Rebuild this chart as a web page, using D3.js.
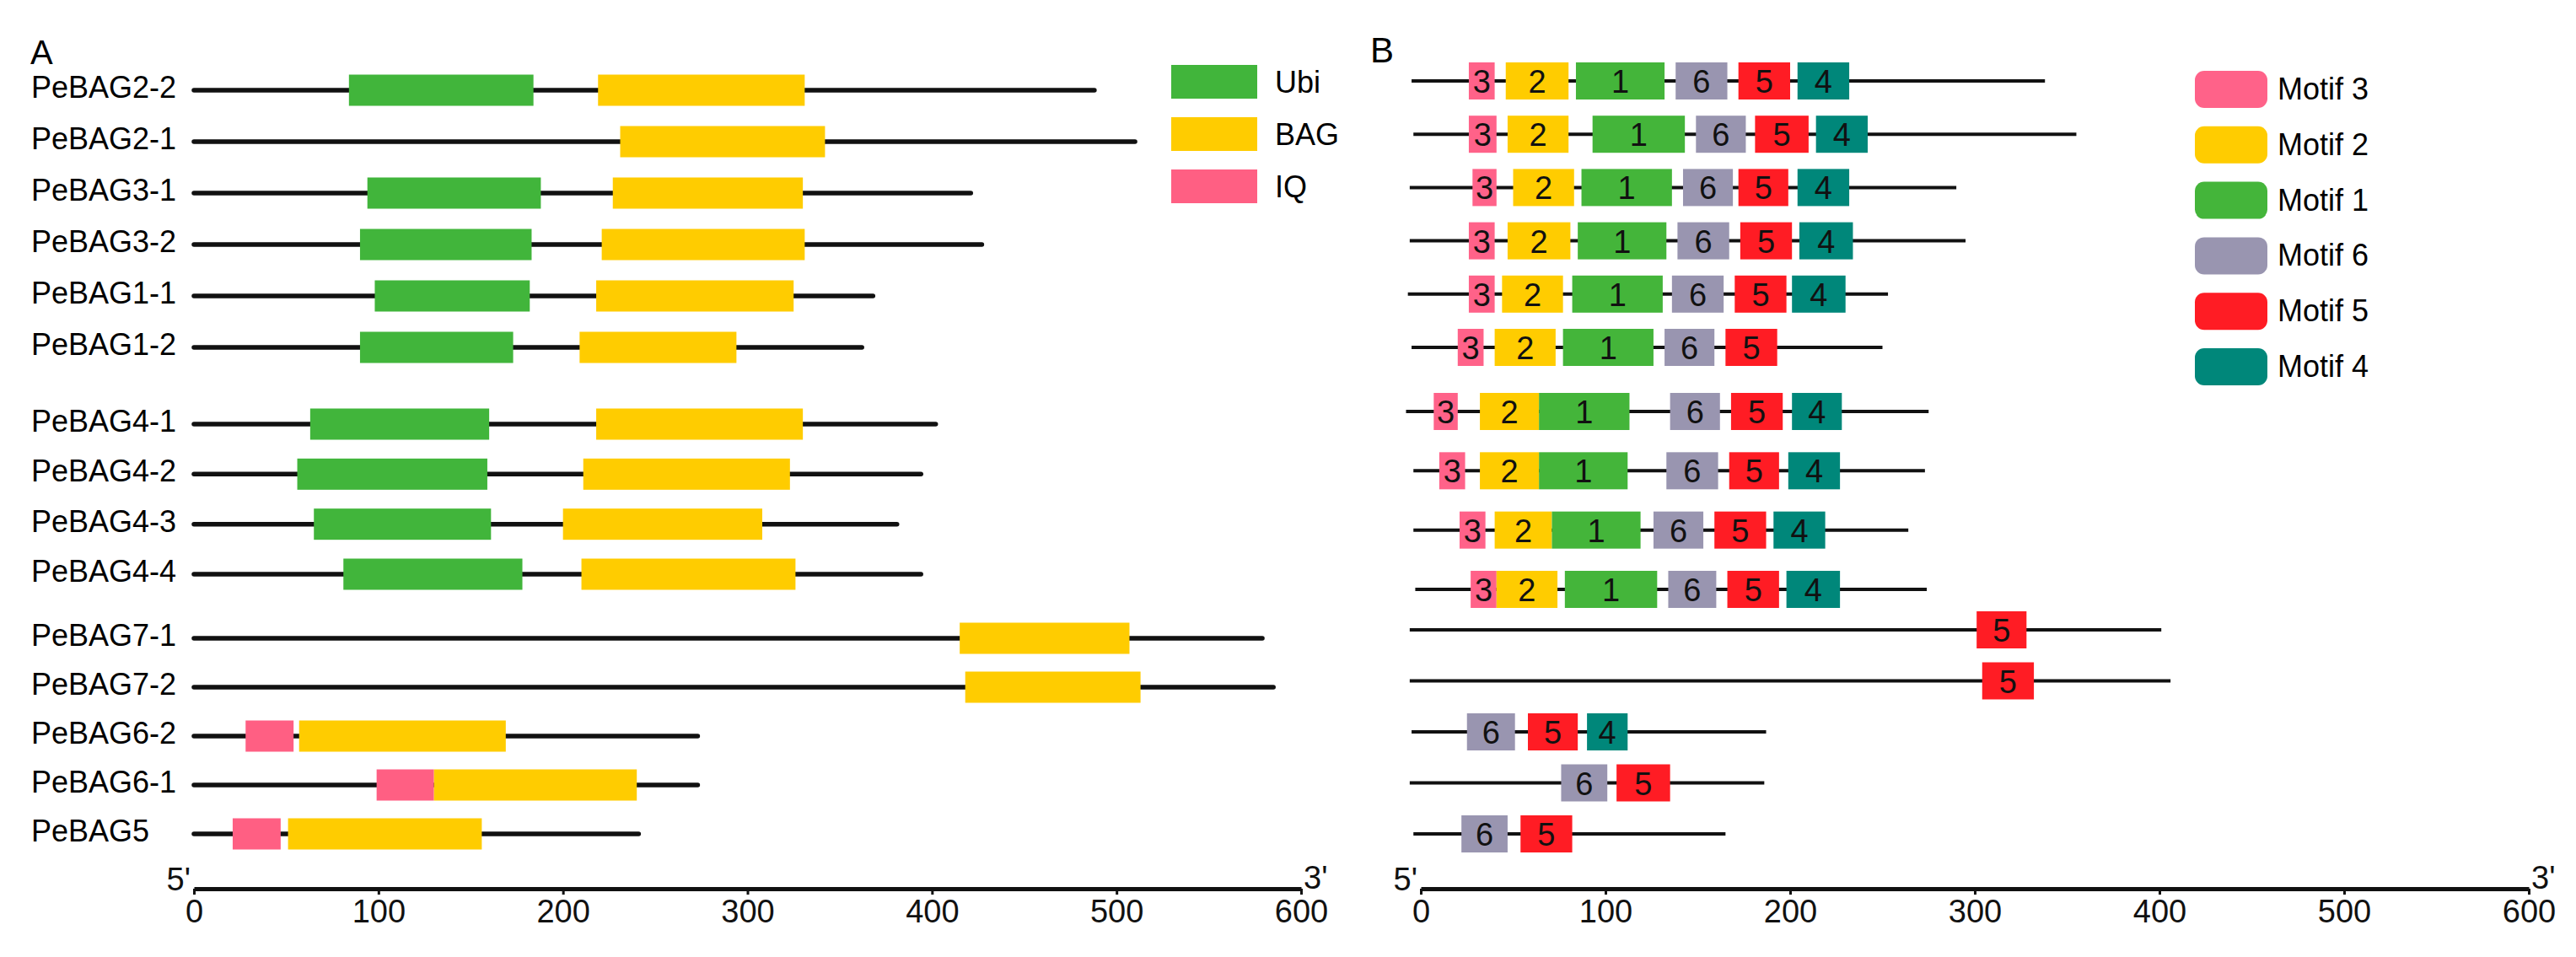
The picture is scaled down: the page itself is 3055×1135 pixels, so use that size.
<!DOCTYPE html>
<html>
<head>
<meta charset="utf-8">
<script src="https://cdn.jsdelivr.net/npm/d3@7"></script>
<style>
  body { margin: 0; background: #fff; }
  svg { display: block; font-family: "Liberation Sans", Arial, sans-serif; }
</style>
</head>
<body>
<script>
// genes, top to bottom, in three blocks
const genes = ["PeBAG2-2", "PeBAG2-1", "PeBAG3-1", "PeBAG3-2", "PeBAG1-1", "PeBAG1-2",
               "PeBAG4-1", "PeBAG4-2", "PeBAG4-3", "PeBAG4-4",
               "PeBAG7-1", "PeBAG7-2", "PeBAG6-2", "PeBAG6-1", "PeBAG5"];
const groupSizes = [6, 4, 5];

// panel A: protein length and domains (aa)
const proteinLength = [488, 510, 421, 427, 368, 362, 402, 394, 381, 394, 579, 585, 273, 273, 241];
const ubiDomain = [[84, 184], null, [94, 188], [90, 183], [98, 182], [90, 173],
                   [63, 160], [56, 159], [65, 161], [81, 178], null, null, null, null, null];
const bagDomain = [[219, 331], [231, 342], [227, 330], [221, 331], [218, 325], [209, 294],
                   [218, 330], [211, 323], [200, 308], [210, 326],
                   [415, 507], [418, 513], [57, 169], [130, 240], [51, 156]];
const iqDomain = [null, null, null, null, null, null, null, null, null, null,
                  null, null, [28, 54], [99, 130], [21, 47]];
const domainNames = ["Ubi", "BAG", "IQ"];

// panel B: sequence line and motifs
const motifLineStart = [-5, -4, -6, -6, -7, -5, -8, -4, -4, -3, -6, -6, -5, -6, -4];
const motifLineEnd = [338, 355, 290, 295, 253, 250, 275, 273, 264, 274, 401, 406, 187, 186, 165];
const motif3 = [[26, 40], [26, 41], [28, 41], [26, 40], [26, 40], [20, 34], [7, 20], [10, 24],
                [21, 35], [27, 41], null, null, null, null, null];
const motif2 = [[46, 80], [47, 80], [50, 83], [47, 81], [44, 77], [40, 73], [32, 64], [32, 64],
                [40, 71], [41, 74], null, null, null, null, null];
const motif1 = [[84, 132], [93, 143], [87, 136], [85, 133], [82, 131], [77, 126], [64, 113], [64, 112],
                [71, 119], [78, 128], null, null, null, null, null];
const motif6 = [[138, 166], [149, 176], [142, 169], [139, 167], [136, 164], [132, 159], [135, 162], [133, 161],
                [126, 153], [134, 160], null, null, [25, 51], [76, 101], [22, 47]];
const motif5 = [[172, 200], [181, 210], [172, 199], [173, 201], [170, 198], [165, 193], [168, 196], [167, 194],
                [159, 187], [166, 194], [301, 328], [304, 332], [58, 85], [106, 135], [54, 82]];
const motif4 = [[204, 232], [214, 242], [204, 232], [205, 234], [201, 230], null, [201, 228], [199, 227],
                [191, 219], [198, 227], null, null, [90, 112], null, null];
const motifOrder = ["3", "2", "1", "6", "5", "4"];

const axisTicks = [0, 100, 200, 300, 400, 500, 600];

const domainColor = { Ubi: "#41b53b", BAG: "#ffcc00", IQ: "#ff5f83" };
const motifColor = { "3": "#ff6289", "2": "#ffcc00", "1": "#44b53a", "6": "#9995b0", "5": "#ff1c24", "4": "#00877a" };

const width = 3055, height = 1135;
const axisY = 1054;

const svg = d3.select("body").append("svg")
    .attr("width", width)
    .attr("height", height)
    .attr("viewBox", [0, 0, width, height]);

// row positions: one point scale per block
function rowScale(spans) {
    let pos = {}, k = 0;
    groupSizes.forEach((n, g) => {
        let names = genes.slice(k, k + n);
        let s = d3.scalePoint().domain(names).range(spans[g]);
        names.forEach(nm => pos[nm] = s(nm));
        k += n;
    });
    return nm => pos[nm];
}
const yA = rowScale([[107, 412], [503, 681], [757, 989]]);
const yB = rowScale([[96, 412], [488, 699], [747, 989]]);

const xA = d3.scaleLinear().domain([0, 600]).range([230, 1543]);
const xB = d3.scaleLinear().domain([0, 600]).range([1685, 2999]);

// ---------- panel A ----------
const gA = svg.append("g");

gA.append("text").attr("x", 36).attr("y", 76)
    .style("font-size", "40px").text("A");

gA.selectAll(".glabel")
    .data(genes)
    .join("text")
    .attr("x", 37)
    .attr("y", d => yA(d) + 9)
    .style("font-size", "36px")
    .text(d => d);

gA.selectAll(".prot")
    .data(genes)
    .join("line")
    .attr("x1", xA(0))
    .attr("x2", (d, i) => xA(proteinLength[i]))
    .attr("y1", d => yA(d))
    .attr("y2", d => yA(d))
    .attr("stroke", "#111")
    .attr("stroke-width", 5.5)
    .attr("stroke-linecap", "round");

let domains = [];
genes.forEach((g, i) => {
    [["Ubi", ubiDomain], ["BAG", bagDomain], ["IQ", iqDomain]].forEach(([name, arr]) => {
        if (arr[i]) domains.push({ gene: g, name: name, start: arr[i][0], end: arr[i][1] });
    });
});

gA.selectAll(".dom")
    .data(domains)
    .join("rect")
    .attr("x", d => xA(d.start))
    .attr("width", d => xA(d.end) - xA(d.start))
    .attr("y", d => yA(d.gene) - 18.5)
    .attr("height", 37)
    .attr("fill", d => domainColor[d.name]);

// legend A
const legA = d3.scalePoint().domain(domainNames).range([97, 221]);
gA.selectAll(".legA")
    .data(domainNames)
    .join("rect")
    .attr("x", 1389)
    .attr("y", d => legA(d) - 20)
    .attr("width", 102)
    .attr("height", 40)
    .attr("fill", d => domainColor[d]);
gA.selectAll(".legAt")
    .data(domainNames)
    .join("text")
    .attr("x", 1512)
    .attr("y", d => legA(d) + 13)
    .style("font-size", "36px")
    .text(d => d);

// ---------- panel B ----------
const gB = svg.append("g");

gB.append("text").attr("x", 1625).attr("y", 74)
    .style("font-size", "42px").text("B");

gB.selectAll(".seq")
    .data(genes)
    .join("line")
    .attr("x1", (d, i) => xB(motifLineStart[i]))
    .attr("x2", (d, i) => xB(motifLineEnd[i]))
    .attr("y1", d => yB(d))
    .attr("y2", d => yB(d))
    .attr("stroke", "#111")
    .attr("stroke-width", 4);

const motifArrays = { "3": motif3, "2": motif2, "1": motif1, "6": motif6, "5": motif5, "4": motif4 };
let motifs = [];
genes.forEach((g, i) => {
    motifOrder.forEach(m => {
        let r = motifArrays[m][i];
        if (r) motifs.push({ gene: g, motif: m, start: r[0], end: r[1] });
    });
});

const mg = gB.selectAll(".motif")
    .data(motifs)
    .join("g");
mg.append("rect")
    .attr("x", d => xB(d.start))
    .attr("width", d => xB(d.end) - xB(d.start))
    .attr("y", d => yB(d.gene) - 22)
    .attr("height", 44)
    .attr("fill", d => motifColor[d.motif]);
mg.append("text")
    .attr("x", d => (xB(d.start) + xB(d.end)) / 2)
    .attr("y", d => yB(d.gene) + 14)
    .attr("text-anchor", "middle")
    .attr("fill", "#111")
    .style("font-size", "38px")
    .text(d => d.motif);

// legend B
const legB = d3.scalePoint().domain(motifOrder).range([106, 435]);
gB.selectAll(".legB")
    .data(motifOrder)
    .join("rect")
    .attr("x", 2603)
    .attr("y", d => legB(d) - 22)
    .attr("width", 86)
    .attr("height", 44)
    .attr("rx", 11)
    .attr("fill", d => motifColor[d]);
gB.selectAll(".legBt")
    .data(motifOrder)
    .join("text")
    .attr("x", 2701)
    .attr("y", d => legB(d) + 12)
    .style("font-size", "36px")
    .text(d => "Motif " + d);

// ---------- axes ----------
[xA, xB].forEach(x => {
    let ax = svg.append("g")
        .attr("transform", `translate(0,${axisY})`)
        .call(d3.axisBottom(x).tickValues(axisTicks).tickSize(7).tickSizeOuter(0).tickPadding(6));
    ax.select(".domain").attr("stroke", "#111").attr("stroke-width", 5);
    ax.selectAll(".tick line").attr("stroke", "#111").attr("stroke-width", 3);
    ax.selectAll(".tick text")
        .attr("fill", "#111")
        .style("font-family", "'Liberation Sans', Arial, sans-serif")
        .style("font-size", "38px");
    ax.append("text")
        .attr("x", x(0) - 4).attr("y", 2)
        .attr("text-anchor", "end").attr("fill", "#111")
        .style("font-size", "38px")
        .text("5'");
    ax.append("text")
        .attr("x", x(600) + 3).attr("y", 0)
        .attr("text-anchor", "start").attr("fill", "#111")
        .style("font-size", "38px")
        .text("3'");
});
</script>
</body>
</html>
